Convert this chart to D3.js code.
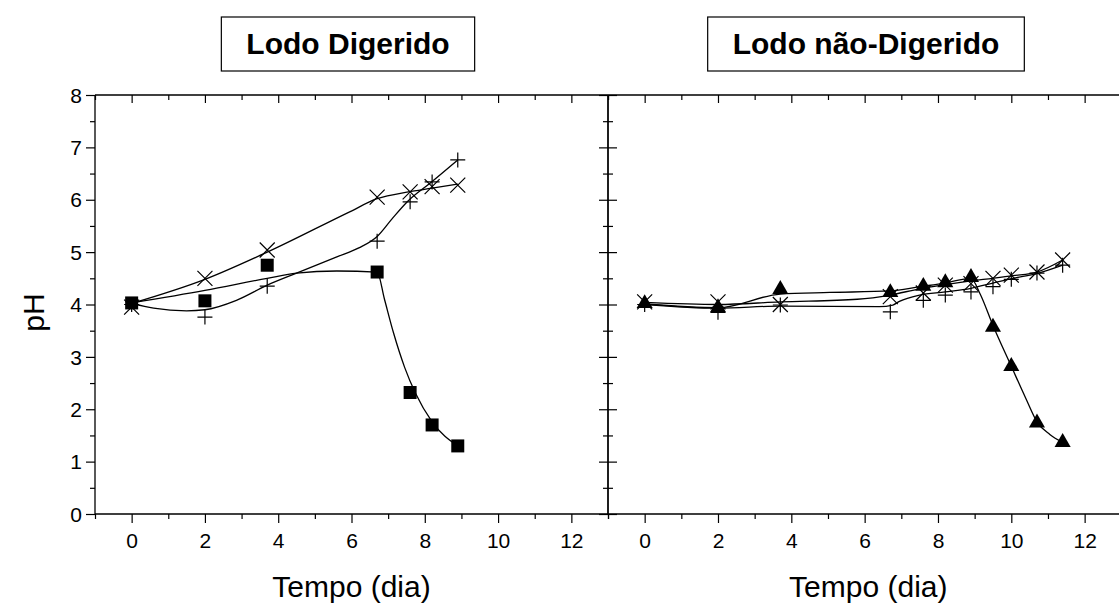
<!DOCTYPE html>
<html>
<head>
<meta charset="utf-8">
<script src="https://cdn.jsdelivr.net/npm/d3@7"></script>
<style>
  html, body { margin: 0; padding: 0; background: #fff; }
  svg { display: block; font-family: "Liberation Sans", Arial, sans-serif; }
</style>
</head>
<body>
<svg id="chart" width="1119" height="606"></svg>
<script>
// ---- Measured pH values ----
// Digested sludge (left panel)
const diasDig = [0, 2, 3.7, 6.7, 7.6, 8.2, 8.9];
const phDigQuadrado = [4.03, 4.07, 4.75, 4.62, 2.32, 1.70, 1.30];
const phDigX = [3.95, 4.50, 5.04, 6.05, 6.15, 6.25, 6.28];
const phDigMais = [4.00, 3.76, 4.35, 5.21, 5.96, 6.34, 6.76];

// Non-digested sludge (right panel)
const diasNao = [0, 2, 3.7, 6.7, 7.6, 8.2, 8.9, 9.5, 10, 10.7, 11.4];
const phNaoTriangulo = [4.02, 3.94, 4.29, 4.23, 4.35, 4.42, 4.52, 3.57, 2.82, 1.74, 1.37];
const phNaoX = [4.05, 4.05, 4.00, 4.15, 4.22, 4.37, 4.40, 4.50, 4.56, 4.62, 4.85];
const phNaoMais = [4.00, 3.85, 3.99, 3.86, 4.08, 4.18, 4.24, 4.34, 4.48, 4.60, 4.75];

// ---- Smoothed trend curves (day, pH) ----
const curvaDigQuadrado = [[0,4.03],[2,4.27],[3.7,4.5],[4.5,4.6],[5.6,4.64],[6.7,4.62],[6.9,4.1],[7.15,3.45],[7.45,2.8],[7.75,2.3],[8.2,1.76],[8.9,1.3]];
const curvaDigX = [[0,4.02],[2,4.48],[3.7,5.0],[5.95,5.77],[6.7,6.02],[7.55,6.15],[8.2,6.22],[8.9,6.3]];
const curvaDigMais = [[0,4.02],[0.6,3.93],[1.5,3.88],[2,3.9],[2.86,4.08],[3.7,4.37],[4.5,4.6],[5.6,4.91],[6.2,5.08],[6.7,5.3],[7.1,5.63],[7.55,5.98],[8.15,6.32],[8.9,6.76]];

const curvaNaoTriangulo = [[0,4.01],[2,3.94],[3.7,4.2],[5.05,4.23],[6.7,4.26],[7.5,4.34],[8.2,4.41],[8.9,4.5],[9.15,4.2],[9.5,3.6],[10,2.82],[10.4,2.2],[10.7,1.76],[11.05,1.52],[11.4,1.37]];
const curvaNaoX = [[0,4.04],[2,4.0],[3.7,4.05],[5.8,4.1],[6.7,4.18],[7.5,4.3],[8.2,4.38],[8.9,4.45],[9.5,4.5],[10.05,4.55],[10.7,4.62],[11.4,4.85]];
const curvaNaoMais = [[0,4.0],[2,3.93],[3.7,3.97],[6.4,3.96],[6.77,3.99],[6.95,4.06],[7.5,4.18],[8.2,4.24],[8.9,4.31],[9.5,4.41],[10.05,4.5],[10.7,4.59],[11.4,4.75]];

// ---- Axis ticks and labels ----
const xTicksMaior = [0, 2, 4, 6, 8, 10, 12];
const xTicksMenor = [-1, 1, 3, 5, 7, 9, 11, 13];
const yTicksMaior = [0, 1, 2, 3, 4, 5, 6, 7, 8];
const yTicksMenor = [0.5, 1.5, 2.5, 3.5, 4.5, 5.5, 6.5, 7.5];
const tituloEsq = "Lodo Digerido";
const tituloDir = "Lodo não-Digerido";
const rotuloX = "Tempo (dia)";
const rotuloY = "pH";

// ---- Layout ----
const svg = d3.select("#chart");
const plotTop = 95, plotBottom = 514;
const y = d3.scaleLinear().domain([0, 8]).range([plotBottom, plotTop]);
const xL = d3.scaleLinear().domain([-1, 13]).range([95, 608]);
const xR = d3.scaleLinear().domain([-1, 13]).range([608, 1121.3]);

const tickFont = 21;

function styleAxis(g) {
  g.select(".domain").remove();
  g.selectAll(".tick line").attr("stroke", "#000").attr("stroke-width", 1.2);
  g.selectAll(".tick text")
    .attr("fill", "#000")
    .style("font-size", tickFont + "px")
    .style("font-family", '"Liberation Sans", Arial, sans-serif');
}

function panel(x, showYLabels) {
  const [x0, x1] = x.range();

  // bottom axis: labelled majors, short minors
  svg.append("g").attr("transform", `translate(0,${plotBottom})`)
    .call(d3.axisBottom(x).tickValues(xTicksMaior).tickSize(9).tickPadding(10).tickFormat(d3.format("d")))
    .call(styleAxis);
  svg.append("g").attr("transform", `translate(0,${plotBottom})`)
    .call(d3.axisBottom(x).tickValues(xTicksMenor).tickSize(5).tickFormat(""))
    .call(styleAxis);

  // top axis: inward ticks
  svg.append("g").attr("transform", `translate(0,${plotTop})`)
    .call(d3.axisTop(x).tickValues(xTicksMaior).tickSize(-8).tickFormat(""))
    .call(styleAxis);
  svg.append("g").attr("transform", `translate(0,${plotTop})`)
    .call(d3.axisTop(x).tickValues(xTicksMenor).tickSize(-5).tickFormat(""))
    .call(styleAxis);

  // left axis
  const left = svg.append("g").attr("transform", `translate(${x0},0)`)
    .call(d3.axisLeft(y).tickValues(yTicksMaior).tickSize(9).tickPadding(4)
      .tickFormat(showYLabels ? d3.format("d") : ""))
    .call(styleAxis);
  left.selectAll(".tick text").attr("dy", "0.34em");
  svg.append("g").attr("transform", `translate(${x0},0)`)
    .call(d3.axisLeft(y).tickValues(yTicksMenor).tickSize(5).tickFormat(""))
    .call(styleAxis);

  // frame
  svg.append("path")
    .attr("d", `M${x0},${plotTop}H${x1}M${x0},${plotBottom}H${x1}M${x0},${plotTop}V${plotBottom}M${x1},${plotTop}V${plotBottom}`)
    .attr("fill", "none").attr("stroke", "#000").attr("stroke-width", 1.3);
}

panel(xL, true);
panel(xR, false);

// ticks on the shared divider also point into the left panel's side
svg.append("g").attr("transform", `translate(${xR.range()[0]},0)`)
  .call(d3.axisRight(y).tickValues(yTicksMaior).tickSize(9).tickFormat(""))
  .call(styleAxis);
svg.append("g").attr("transform", `translate(${xR.range()[0]},0)`)
  .call(d3.axisRight(y).tickValues(yTicksMenor).tickSize(5).tickFormat(""))
  .call(styleAxis);

// ---- Curves ----
function drawCurve(x, pts) {
  const line = d3.line().x(d => x(d[0])).y(d => y(d[1])).curve(d3.curveMonotoneX);
  svg.append("path").attr("d", line(pts))
    .attr("fill", "none").attr("stroke", "#000").attr("stroke-width", 1.3);
}
drawCurve(xL, curvaDigX);
drawCurve(xL, curvaDigMais);
drawCurve(xL, curvaDigQuadrado);
drawCurve(xR, curvaNaoX);
drawCurve(xR, curvaNaoMais);
drawCurve(xR, curvaNaoTriangulo);

// ---- Markers ----
const half = 7.5;
function crossX(g) {
  g.attr("d", `M${-half},${-half}L${half},${half}M${-half},${half}L${half},${-half}`)
    .attr("fill", "none").attr("stroke", "#000").attr("stroke-width", 1.2);
}
function crossPlus(g) {
  g.attr("d", `M${-half},0H${half}M0,${-half}V${half}`)
    .attr("fill", "none").attr("stroke", "#000").attr("stroke-width", 1.2);
}
function markers(x, dias, vals, kind) {
  const sel = svg.append("g").selectAll("path").data(dias.map((d, i) => [d, vals[i]])).join("path")
    .attr("transform", d => `translate(${x(d[0])},${y(d[1])})`);
  if (kind === "x") crossX(sel);
  else if (kind === "plus") crossPlus(sel);
  else if (kind === "square") sel.attr("d", d3.symbol(d3.symbolSquare, 169)()).attr("fill", "#000");
  else if (kind === "triangle") sel.attr("d", d3.symbol(d3.symbolTriangle, 112)()).attr("fill", "#000");
}
markers(xL, diasDig, phDigQuadrado, "square");
markers(xL, diasDig, phDigX, "x");
markers(xL, diasDig, phDigMais, "plus");
markers(xR, diasNao, phNaoTriangulo, "triangle");
markers(xR, diasNao, phNaoX, "x");
markers(xR, diasNao, phNaoMais, "plus");

// ---- Axis titles ----
svg.append("text").attr("x", (xL.range()[0] + xL.range()[1]) / 2).attr("y", 597)
  .attr("text-anchor", "middle").style("font-size", "30px").text(rotuloX);
svg.append("text").attr("x", xR(6.1)).attr("y", 597)
  .attr("text-anchor", "middle").style("font-size", "30px").text(rotuloX);

svg.append("text")
  .attr("transform", `translate(44,${(plotTop + plotBottom) / 2 + 8}) rotate(-90)`)
  .attr("text-anchor", "middle").style("font-size", "30px").text(rotuloY);

// ---- Panel titles in boxes ----
function boxedTitle(cx, label) {
  const g = svg.append("g");
  const t = g.append("text").attr("x", cx).attr("y", 54)
    .attr("text-anchor", "middle")
    .style("font-size", "30px").style("font-weight", "bold").text(label);
  const w = t.node().getComputedTextLength();
  g.insert("rect", "text")
    .attr("x", cx - w / 2 - 25).attr("y", 17)
    .attr("width", w + 50).attr("height", 54)
    .attr("fill", "#fff").attr("stroke", "#000").attr("stroke-width", 1.2);
}
boxedTitle(348, tituloEsq);
boxedTitle(866, tituloDir);
</script>
</body>
</html>
